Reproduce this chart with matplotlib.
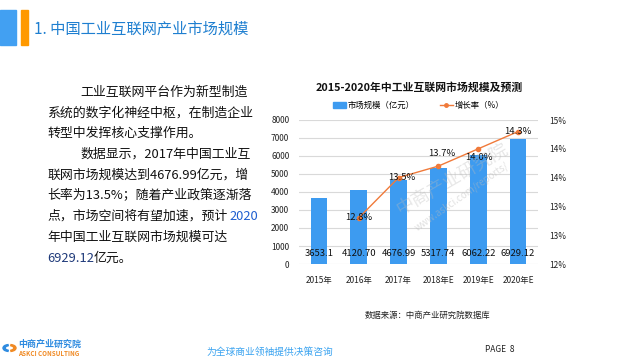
import matplotlib
matplotlib.use("Agg")
import matplotlib.pyplot as plt
from matplotlib.patches import Rectangle, Wedge
from matplotlib.lines import Line2D
from matplotlib.ticker import FuncFormatter

plt.rcParams['font.family'] = ['Noto Sans CJK SC', 'DejaVu Sans']

# datos del grafico
anios = ['2015年', '2016年', '2017年', '2018年E', '2019年E', '2020年E']
mercado = [3653.1, 4120.70, 4676.99, 5317.74, 6062.22, 6929.12]
mercado_txt = ['3653.1', '4120.70', '4676.99', '5317.74', '6062.22', '6929.12']
tasa_anios = [1, 2, 3, 4, 5]
tasa = [12.8, 13.5, 13.7, 14.0, 14.3]
tasa_txt = ['12.8%', '13.5%', '13.7%', '14.0%', '14.3%']
tasa_offset = [(0, 0), (3, 0), (3, 13), (1, -9), (0, 0)]

azul = '#3D9BF0'
naranja = '#F07A3A'

W, H = 625, 360
fig = plt.figure(figsize=(6.25, 3.6), dpi=100)

def px(x, y):
    return x / W, 1 - y / H

# cabecera
fig.patches.append(Rectangle(px(0, 45), 16 / W, 35 / H, transform=fig.transFigure, color='#42A0F2'))
fig.patches.append(Rectangle(px(21, 45), 7 / W, 35 / H, transform=fig.transFigure, color='#FF9900'))
fig.text(*px(34, 29), '1. 中国工业互联网产业市场规模', fontsize=11, color='#1E7FD0', va='center', ha='left')

# texto de la izquierda
lineas = [
    (80, 92, '工业互联网平台作为新型制造'),
    (47, 113, '系统的数字化神经中枢，在制造企业'),
    (47, 133, '转型中发挥核心支撑作用。'),
    (80, 154, '数据显示，2017年中国工业互'),
    (47, 175, '联网市场规模达到4676.99亿元，增'),
    (47, 195, '长率为13.5%；随着产业政策逐渐落'),
    (47, 216, '点，市场空间将有望加速，预计'),
    (47, 237, '年中国工业互联网市场规模可达'),
]
for x, y, t in lineas:
    fig.text(*px(x, y), t, fontsize=9.3, color='#111111', va='center', ha='left')
fig.text(*px(229, 216), '2020', fontsize=9.3, color='#1F5FD0', va='center', ha='left')
fig.text(*px(47, 258), '6929.12', fontsize=9.3, color='#1F3A7A', va='center', ha='left')
fig.text(*px(94, 258), '亿元。', fontsize=9.3, color='#111111', va='center', ha='left')

# grafico
ax = fig.add_axes([299 / W, 1 - 264 / H, 239 / W, 144 / H])
x = range(len(anios))
ax.bar(x, mercado, width=0.42, color=azul, zorder=2, label='市场规模（亿元）')
ax.set_ylim(0, 8000)
ax.set_xlim(-0.5, 5.5)
ax.set_yticks(range(0, 8001, 1000))
ax.grid(axis='y', color='#D9D9D9', linewidth=0.8, zorder=0)
for s in ax.spines.values():
    s.set_visible(False)
ax.tick_params(length=0, labelsize=6, colors='#222222')
ax.tick_params(axis='y', pad=7)
ax.tick_params(axis='x', pad=9)
ax.set_xticks(list(x))
ax.set_xticklabels(anios)
for i, t in enumerate(mercado_txt):
    ax.text(i, 560, t, fontsize=6.8, ha='center', va='center', color='#111111', zorder=4)

ax2 = ax.twinx()
ax2.plot(tasa_anios, tasa, color=naranja, linewidth=1, marker='o', markersize=3, zorder=3)
ax2.set_ylim(12, 14.5)
ax2.set_yticks([12, 12.5, 13, 13.5, 14, 14.5])
ax2.yaxis.set_major_formatter(FuncFormatter(lambda v, p: '%d%%' % int(v + 0.5)))
for s in ax2.spines.values():
    s.set_visible(False)
ax2.tick_params(length=0, labelsize=6, colors='#222222', pad=8)
for xi, yi, t, off in zip(tasa_anios, tasa, tasa_txt, tasa_offset):
    ax2.annotate(t, (xi, yi), xytext=off, textcoords='offset pixels',
                 fontsize=6.8, ha='center', va='center', color='#111111', zorder=5)

handles = [Rectangle((0, 0), 1, 1, color=azul),
           Line2D([0], [0], color=naranja, marker='o', markersize=2.5, linewidth=1)]
ax.legend(handles, ['市场规模（亿元）', '增长率（%）'], ncol=2, loc='lower center',
          bbox_to_anchor=(0.5, 1.02), frameon=False, fontsize=6, handlelength=1.6,
          handletextpad=0.2, columnspacing=3)

fig.text(*px(419, 87), '2015-2020年中工业互联网市场规模及预测', fontsize=7.8,
         fontweight='bold', ha='center', va='center', color='#111111')

# marca de agua
fig.text(*px(452, 180), '中商产业研究院', fontsize=13, color='#BBBBBB', alpha=0.35,
         rotation=30, ha='center', va='center')
fig.text(*px(462, 197), 'www.askci.com/reports/', fontsize=7, color='#BBBBBB', alpha=0.45,
         rotation=35, ha='center', va='center')

# pie de pagina
fig.text(*px(365, 315), '数据来源：中商产业研究院数据库', fontsize=6, color='#222222', va='center', ha='left')
fig.patches.append(Wedge(px(9, 348), 6 / W, 100, 260, width=2.2 / W, transform=fig.transFigure, color='#2E8BE0'))
fig.patches.append(Wedge(px(10, 348), 6 / W, -80, 80, width=2.2 / W, transform=fig.transFigure, color='#F08A24'))
fig.text(*px(18, 344), '中商产业研究院', fontsize=6.5, fontweight='bold', color='#2E8BE0', va='center', ha='left')
fig.text(*px(18, 354), 'ASKCI CONSULTING', fontsize=4.5, fontweight='bold', color='#F08A24', va='center', ha='left')
fig.text(*px(270, 352), '为全球商业领袖提供决策咨询', fontsize=7, color='#3AA3F0', style='italic',
         va='center', ha='center')
fig.text(*px(485, 350), 'PAGE  8', fontsize=6, color='#222222', va='center', ha='left')

fig.savefig('out.png', dpi=100)
